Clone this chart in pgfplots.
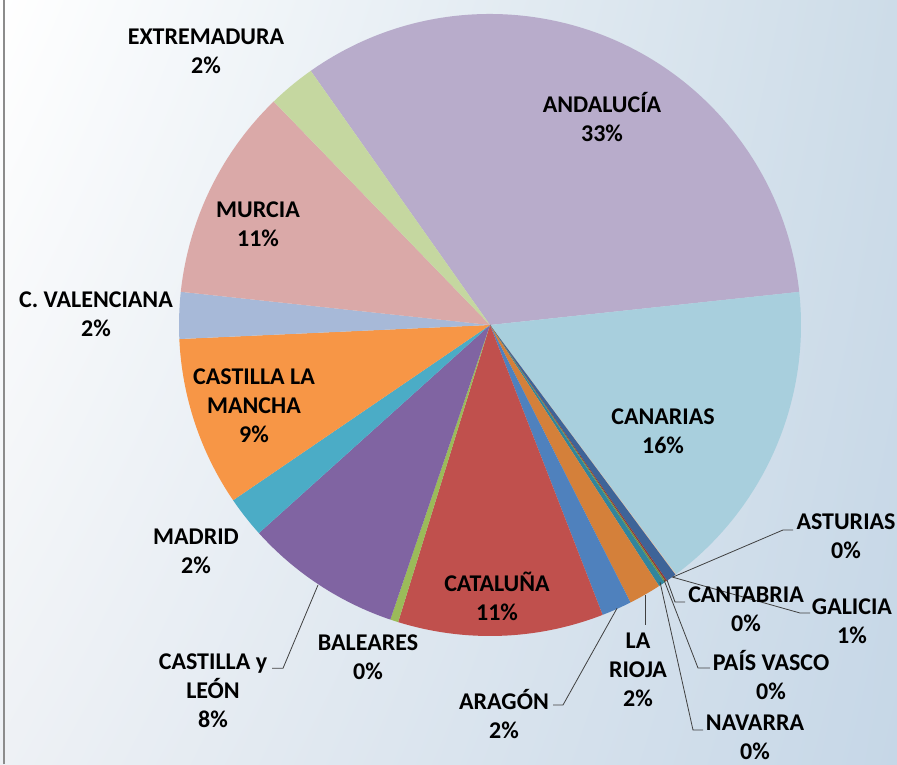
\documentclass[border=0pt]{standalone}
\usepackage{fontspec}
\setmainfont{Carlito}
\usepackage{pgfplots}
\usepackage{pgfplotstable}
\usetikzlibrary{shadings}
\pgfplotsset{compat=1.18}
\definecolor{cAnd}{HTML}{B8ACCB}
\definecolor{cCan}{HTML}{A8CFDD}
\definecolor{cAst}{HTML}{FAC090}
\definecolor{cGal}{HTML}{3E6498}
\definecolor{cCtb}{HTML}{953735}
\definecolor{cPV}{HTML}{77933C}
\definecolor{cNav}{HTML}{31859C}
\definecolor{cRio}{HTML}{D4803A}
\definecolor{cAra}{HTML}{4F81BD}
\definecolor{cCat}{HTML}{C0504D}
\definecolor{cBal}{HTML}{9BBB59}
\definecolor{cCyL}{HTML}{8064A2}
\definecolor{cMad}{HTML}{4BACC6}
\definecolor{cCLM}{HTML}{F79646}
\definecolor{cCV}{HTML}{A7B9D8}
\definecolor{cMur}{HTML}{DAA9A8}
\definecolor{cExt}{HTML}{C5D7A0}
\definecolor{bgUR}{HTML}{CDDCE8}
\definecolor{bgLR}{HTML}{C6D7E7}
\definecolor{bgLL}{HTML}{EEF1F5}

\pgfplotstableread[col sep=comma]{
name,value,col
Andalucia,33.08,cAnd
Canarias,16.50,cCan
Asturias,0.03,cAst
Galicia,0.53,cGal
Cantabria,0.08,cCtb
PaisVasco,0.08,cPV
Navarra,0.33,cNav
LaRioja,1.69,cRio
Aragon,1.56,cAra
Cataluna,10.67,cCat
Baleares,0.42,cBal
CastillaLeon,8.14,cCyL
Madrid,2.14,cMad
CastillaMancha,8.81,cCLM
CValenciana,2.42,cCV
Murcia,11.06,cMur
Extremadura,2.46,cExt
}\piedata

\begin{document}
\begin{tikzpicture}
\begin{axis}[scale only axis, width=897pt, height=764pt,
  xmin=0, xmax=897, ymin=0, ymax=764, hide axis, clip=false]
\shade[upper left=white, upper right=bgUR, lower left=bgLL, lower right=bgLR]
  (axis cs:0,0) rectangle (axis cs:897,764);
\draw[color=black!45, line width=2pt] (axis cs:4,0) -- (axis cs:4,764);
\pgfplotstablegetrowsof{\piedata}
\pgfmathtruncatemacro\nrows{\pgfplotsretval-1}
\def\cum{125.2}
\pgfplotsforeachungrouped \i in {0,...,\nrows}{%
  \pgfplotstablegetelem{\i}{value}\of\piedata \let\val\pgfplotsretval
  \pgfplotstablegetelem{\i}{col}\of\piedata \let\col\pgfplotsretval
  \pgfmathsetmacro\aend{\cum-\val*3.6}%
  \edef\temp{\noexpand\fill[fill=\col] (axis cs:490,439) -- (axis cs:{490+311*cos(\cum)},{439+311*sin(\cum)}) arc[start angle=\cum, end angle=\aend, radius=311] -- cycle;}%
  \temp
  \let\cum\aend
}
% leader lines
\begin{scope}[color=black!75, line width=0.8pt]
\draw (axis cs:318,179) -- (axis cs:283,95.7) -- (axis cs:272,95.7);
\draw (axis cs:617,155.7) -- (axis cs:563,59) -- (axis cs:553,59);
\draw (axis cs:645,169) -- (axis cs:645,139);
\draw (axis cs:673,187) -- (axis cs:783,234) -- (axis cs:793,234);
\draw (axis cs:672,187) -- (axis cs:800,151) -- (axis cs:810,151);
\draw (axis cs:667,184) -- (axis cs:675,162) -- (axis cs:685,162);
\draw (axis cs:664,184) -- (axis cs:698,96) -- (axis cs:710,96);
\draw (axis cs:660,182) -- (axis cs:693,34) -- (axis cs:703,34);
\end{scope}
% labels
\begin{scope}[every node/.style={align=center, font=\bfseries\fontsize{24}{29}\selectfont, inner sep=0pt}]
\node at (axis cs:206,712.5) {EXTREMADURA\\2\%};
\node at (axis cs:602,646.5) {ANDALUCÍA\\33\%};
\node at (axis cs:258,540) {MURCIA\\11\%};
\node at (axis cs:96,450) {C. VALENCIANA\\2\%};
\node at (axis cs:254,358) {CASTILLA LA\\MANCHA\\9\%};
\node at (axis cs:663,333) {CANARIAS\\16\%};
\node at (axis cs:196,212.5) {MADRID\\2\%};
\node at (axis cs:213,73) {CASTILLA y\\LEÓN\\8\%};
\node at (axis cs:368,106.5) {BALEARES\\0\%};
\node at (axis cs:497,168) {CATALUÑA\\11\%};
\node at (axis cs:504,50) {ARAGÓN\\2\%};
\node at (axis cs:638,94) {LA\\RIOJA\\2\%};
\node at (axis cs:846,228) {ASTURIAS\\0\%};
\node at (axis cs:746,155) {CANTABRIA\\0\%};
\node at (axis cs:852,143) {GALICIA\\1\%};
\node at (axis cs:771,89) {PAÍS VASCO\\0\%};
\node at (axis cs:755,26.5) {NAVARRA\\0\%};
\end{scope}
\end{axis}
\pgfresetboundingbox
\useasboundingbox (current axis.south west) rectangle (current axis.north east);
\end{tikzpicture}
\end{document}
